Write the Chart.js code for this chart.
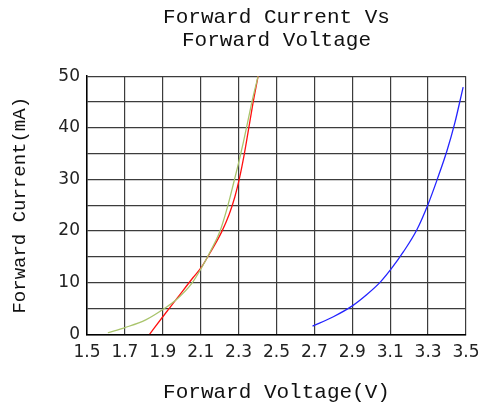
<!DOCTYPE html>
<html>
<head>
<meta charset="utf-8">
<script src="https://cdn.jsdelivr.net/npm/chart.js@4.4.0/dist/chart.umd.min.js"></script>
<style>
    html, body { margin: 0; padding: 0; background: #fff; }
    #wrap { width: 489px; height: 409px; }
</style>
</head>
<body>
<div id="wrap"><canvas id="chartVF"></canvas></div>
<script>
// Datos
const voltajeVerde = [1.61, 1.70, 1.81, 1.90, 1.98, 2.05, 2.10, 2.15, 2.20, 2.24, 2.275, 2.30, 2.325, 2.35, 2.375, 2.403];
const corrienteVerde = [0.3, 1.3, 2.8, 4.8, 7.0, 9.7, 12.6, 16.0, 19.8, 24.5, 29.5, 33.2, 37.2, 41.5, 45.8, 50];

const voltajeRojo = [1.83, 1.90, 1.98, 2.06, 2.104, 2.148, 2.21, 2.25, 2.28, 2.305, 2.33, 2.352, 2.375, 2.403];
const corrienteRojo = [0, 3.4, 7.2, 11.0, 13.0, 15.7, 19.8, 23.2, 26.6, 30.3, 34.9, 39.6, 44.6, 50];

const voltajeAzul = [2.69, 2.80, 2.90, 2.98, 3.05, 3.11, 3.17, 3.24, 3.30, 3.35, 3.40, 3.44, 3.485];
const corrienteAzul = [1.6, 3.4, 5.5, 7.8, 10.2, 12.9, 16.0, 20.2, 25.2, 30.2, 35.6, 40.8, 47.9];

const ejeX = { min: 1.5, max: 3.5, paso: 0.2 };
const ejeY = { min: 0, max: 50, paso: 5 };

const fuente = "'Liberation Mono', 'DejaVu Sans Mono', monospace";
const fuenteTicks = "'DejaVu Sans', sans-serif";

function puntos(xs, ys) {
    return xs.map((x, i) => ({ x: x, y: ys[i] }));
}

function serie(xs, ys, color) {
    return {
        data: puntos(xs, ys),
        borderColor: color,
        backgroundColor: color,
        borderWidth: 1.3,
        showLine: true,
        pointRadius: 0,
        cubicInterpolationMode: 'monotone',
        fill: false
    };
}

const ctx = document.getElementById('chartVF').getContext('2d');
new Chart(ctx, {
    type: 'scatter',
    data: {
        datasets: [
            serie(voltajeVerde, corrienteVerde, '#a9c46c'),
            serie(voltajeRojo, corrienteRojo, '#ff1010'),
            serie(voltajeAzul, corrienteAzul, '#2424ff')
        ]
    },
    options: {
        responsive: true,
        maintainAspectRatio: false,
        animation: false,
        layout: { padding: { left: 0, right: 23, top: 0, bottom: 0 } },
        plugins: {
            legend: { display: false },
            tooltip: { enabled: false },
            title: {
                display: true,
                fullSize: false,
                text: ['Forward Current Vs', 'Forward Voltage'],
                color: '#111',
                font: { family: fuente, size: 21, weight: 'normal', lineHeight: 1.1 },
                padding: { top: 6, bottom: 24 }
            }
        },
        scales: {
            x: {
                type: 'linear',
                min: ejeX.min,
                max: ejeX.max,
                afterFit: s => { s.height = 74.7; },
                border: { color: '#000', width: 1.5 },
                grid: { color: '#3c3c3c', lineWidth: 1.2, drawTicks: false },
                ticks: {
                    stepSize: ejeX.paso,
                    padding: 8,
                    color: '#222',
                    font: { family: fuenteTicks, size: 17 },
                    maxRotation: 0,
                    autoSkip: false,
                    callback: v => v.toFixed(1)
                },
                title: {
                    display: true,
                    text: 'Forward Voltage(V)',
                    color: '#111',
                    font: { family: fuente, size: 21 },
                    padding: { top: 12 }
                }
            },
            y: {
                type: 'linear',
                min: ejeY.min,
                max: ejeY.max,
                afterFit: s => { s.width = 87; },
                border: { color: '#000', width: 1.5 },
                grid: { color: '#3c3c3c', lineWidth: 1.2, drawTicks: false },
                ticks: {
                    stepSize: ejeY.paso,
                    padding: 7,
                    color: '#222',
                    font: { family: fuenteTicks, size: 17 },
                    autoSkip: false,
                    callback: v => (v % 10 === 0 ? String(v) : '')
                },
                title: {
                    display: true,
                    text: 'Forward Current(mA)',
                    color: '#111',
                    font: { family: fuente, size: 19 },
                    padding: { top: 9, bottom: 4 }
                }
            }
        }
    }
});
</script>
</body>
</html>
